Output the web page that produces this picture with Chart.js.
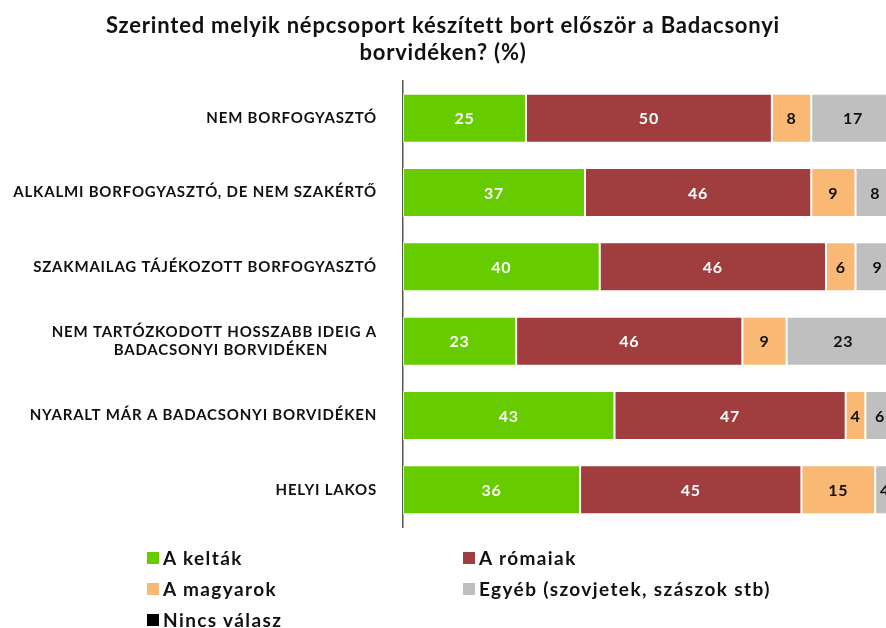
<!DOCTYPE html>
<html>
<head>
<meta charset="utf-8">
<script src="https://cdn.jsdelivr.net/npm/chart.js@4/dist/chart.umd.min.js"></script>
<style>
  html, body { margin: 0; padding: 0; background: #fff; overflow: hidden; }
  #wrap { position: relative; width: 886px; height: 628px; }
  #vote-chart { position: absolute; left: 0; top: 0; }
  .legend-item {
    position: absolute;
    font-family: Lato, 'Open Sans', sans-serif;
    font-weight: bold;
    font-size: 19px;
    letter-spacing: 1.4px;
    color: #111;
    line-height: 22px;
    white-space: nowrap;
  }
  .legend-item span.box {
    display: inline-block;
    width: 12px;
    height: 12px;
    margin-right: 4px;
    vertical-align: 1px;
  }
</style>
</head>
<body>
<div id="wrap">
  <canvas id="vote-chart" width="886" height="628"></canvas>
  <div id="legend"></div>
</div>
<script>
'use strict';

// the second line of the 4th label is centred under the first one in the original,
// the trailing spaces push it left of the right aligned edge
const categories = [
    'NEM BORFOGYASZTÓ',
    'ALKALMI BORFOGYASZTÓ, DE NEM SZAKÉRTŐ',
    'SZAKMAILAG TÁJÉKOZOTT BORFOGYASZTÓ',
    ['NEM TARTÓZKODOTT HOSSZABB IDEIG A', 'BADACSONYI BORVIDÉKEN' + '\u00a0'.repeat(11)],
    'NYARALT MÁR A BADACSONYI BORVIDÉKEN',
    'HELYI LAKOS'
];

const keltak = [25, 37, 40, 23, 43, 36];
const romaiak = [50, 46, 46, 46, 47, 45];
const magyarok = [8, 9, 6, 9, 4, 15];
const egyeb = [17, 8, 9, 23, 6, 4];
const nincs_valasz = [0, 0, 0, 0, 0, 0];

const series_names = ['A kelták', 'A rómaiak', 'A magyarok', 'Egyéb (szovjetek, szászok stb)', 'Nincs válasz'];
const series_colours = ['#66cc00', '#a03e3f', '#f9b873', '#bfbfbf', '#000000'];
const label_colours = ['#ffffff', '#ffffff', '#111111', '#111111', '#ffffff'];

const title_lines = ['Szerinted melyik népcsoport készített bort először a Badacsonyi', 'borvidéken? (%)'];

const FONT = "Lato, 'Open Sans', sans-serif";

// the original font is wider than Lato, a bit of tracking makes up for it
const wide_text = {
    id: 'wide_text',
    beforeDraw(chart) {
        chart.ctx.letterSpacing = '0.8px';
    }
};

// numbers in the middle of every segment
const value_labels = {
    id: 'value_labels',
    afterDatasetsDraw(chart) {
        const ctx = chart.ctx;
        ctx.save();
        ctx.font = `bold 16px ${FONT}`;
        ctx.textAlign = 'center';
        ctx.textBaseline = 'middle';
        chart.data.datasets.forEach((ds, i) => {
            const meta = chart.getDatasetMeta(i);
            meta.data.forEach((bar, j) => {
                const v = ds.data[j];
                if (!v) return;
                ctx.fillStyle = label_colours[i];
                ctx.fillText(String(v), (bar.x + bar.base) / 2, bar.y + 1);
            });
        });
        ctx.restore();
    }
};

const all_values = [keltak, romaiak, magyarok, egyeb, nincs_valasz];

const data = {
    labels: categories,
    datasets: all_values.map((values, i) => ({
        label: series_names[i],
        data: values,
        backgroundColor: series_colours[i],
        borderColor: 'rgba(255,255,255,0.7)',
        borderWidth: 1,
        borderSkipped: false,
        barPercentage: 0.66,
        categoryPercentage: 1
    }))
};

const config = {
    type: 'bar',
    data: data,
    plugins: [wide_text, value_labels],
    options: {
        indexAxis: 'y',
        responsive: false,
        animation: false,
        layout: {
            padding: { top: 0, right: 0, bottom: 101, left: 0 }
        },
        plugins: {
            legend: { display: false },
            tooltip: { enabled: false },
            title: {
                display: true,
                text: title_lines,
                color: '#111',
                font: { family: FONT, size: 22, weight: 'bold', lineHeight: 1.25 },
                padding: { top: 12, bottom: 14 }
            }
        },
        scales: {
            x: {
                display: false,
                stacked: true,
                min: 0,
                max: 98.2
            },
            y: {
                stacked: true,
                afterFit: scale => { scale.width = 403; },
                grid: { display: false, drawTicks: false },
                border: { display: true, color: '#555', width: 1.5 },
                ticks: {
                    color: '#111',
                    padding: 26,
                    crossAlign: 'near',
                    autoSkip: false,
                    font: { family: FONT, size: 15, weight: 'bold', lineHeight: 1.2 }
                }
            }
        }
    }
};

const chart = new Chart(document.getElementById('vote-chart'), config);

// legend in two columns, as in the original
const legend_el = document.getElementById('legend');
const legend_cols = [147, 463];
const legend_rows = [547, 578, 609];
series_names.forEach((name, i) => {
    const item = document.createElement('div');
    item.className = 'legend-item';
    item.style.left = legend_cols[i % 2] + 'px';
    item.style.top = legend_rows[Math.floor(i / 2)] + 'px';
    const box = document.createElement('span');
    box.className = 'box';
    box.style.background = series_colours[i];
    item.appendChild(box);
    item.appendChild(document.createTextNode(name));
    legend_el.appendChild(item);
});
</script>
</body>
</html>
